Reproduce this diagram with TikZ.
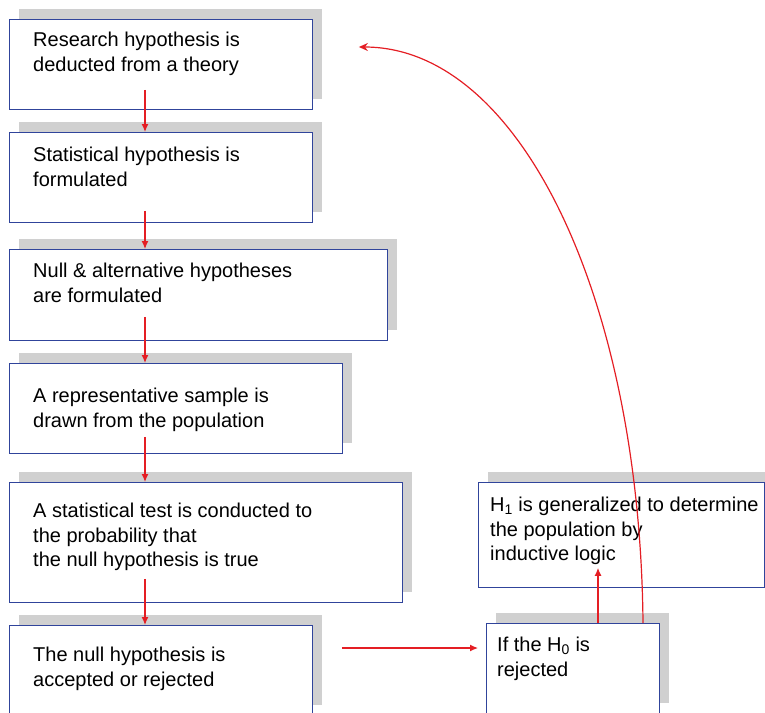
\documentclass[tikz,border=0pt]{standalone}
\usepackage{fontspec}
\setsansfont{Liberation Sans}
\usetikzlibrary{positioning,shadows,arrows.meta,calc}
\definecolor{boxblue}{RGB}{48,68,155}
\definecolor{flowred}{RGB}{228,30,36}
\definecolor{shadowgray}{RGB}{208,208,208}

\begin{document}
\begin{tikzpicture}[x=1pt,y=1pt,
	stepbox/.style={draw=boxblue, line width=0.9pt, fill=white, anchor=north west, inner sep=0pt,
		drop shadow={shadow xshift=10pt, shadow yshift=10pt, fill=shadowgray, opacity=1}},
	steptext/.style={anchor=north west, inner sep=0pt, align=left,
		font=\sffamily\fontsize{20}{24.4}\selectfont},
	flow/.style={draw=flowred, line width=1.2pt, -{Latex[length=8pt,width=7pt]}}]
	\useasboundingbox (0,0) rectangle (765,-712);
	\clip (0,0) rectangle (765,-712);
	% left column
	\node[stepbox, minimum width=303pt, minimum height=90pt] (research) at (9,-19) {};
	\node[stepbox, minimum width=303pt, minimum height=90pt] (stat) at (9,-132) {};
	\node[stepbox, minimum width=378pt, minimum height=91pt] (nullalt) at (9,-249) {};
	\node[stepbox, minimum width=333pt, minimum height=90pt] (sample) at (9,-363) {};
	\node[stepbox, minimum width=393pt, minimum height=120pt] (test) at (9,-482) {};
	\node[stepbox, minimum width=303pt, minimum height=90pt] (decision) at (9,-625) {};
	% right column
	\node[stepbox, minimum width=286pt, minimum height=105pt] (general) at (478,-482) {};
	\node[stepbox, minimum width=173pt, minimum height=90pt] (reject) at (486,-623) {};

	\node[steptext, below right=13pt and 24pt of research.north west] (researchtxt)
		{Research hypothesis is\\deducted from a theory};
	\node[steptext, below right=15pt and 24pt of stat.north west] (stattxt)
		{Statistical hypothesis is\\formulated};
	\node[steptext, below right=14pt and 24pt of nullalt.north west] (nullalttxt)
		{Null \& alternative hypotheses\\are formulated};
	\node[steptext, below right=25pt and 24pt of sample.north west] (sampletxt)
		{A representative sample is\\drawn from the population};
	\node[steptext, below right=21pt and 24pt of test.north west] (testtxt)
		{A statistical test is conducted to\\the probability that\\the null hypothesis is true};
	\node[steptext, below right=22pt and 24pt of decision.north west] (decisiontxt)
		{The null hypothesis is\\accepted or rejected};
	\node[steptext, below right=15pt and 12pt of general.north west] (generaltxt)
		{H\textsubscript{1} is generalized to determine\\the population by\\inductive logic};
	\node[steptext, below right=14pt and 11pt of reject.north west] (rejecttxt)
		{If the H\textsubscript{0} is\\rejected};

	% connectors
	\draw[flow] ([shift={(136,20)}]research.south west) -- ([xshift=136]stat.north west);
	\draw[flow] ([shift={(136,12)}]stat.south west) -- ([xshift=136]nullalt.north west);
	\draw[flow] ([shift={(136,24)}]nullalt.south west) -- ([xshift=136]sample.north west);
	\draw[flow] ([shift={(136,17)}]sample.south west) -- ([xshift=136]test.north west);
	\draw[flow] ([shift={(136,24)}]test.south west) -- ([xshift=136]decision.north west);
	\coordinate (accstart) at ([shift={(29,-23)}]decision.north east);
	\draw[flow] (accstart) -- ([xshift=-8]accstart -| reject.west);
	\draw[flow] ([xshift=112]reject.north west) -- ([shift={(120,20)}]general.south west);
	\draw[flow, -{Stealth[length=9pt,width=8pt]}] ([xshift=157]reject.north west)
		.. controls +(-3,323) and +(162,0) .. ([shift={(46,-28)}]research.north east);
\end{tikzpicture}
\end{document}
